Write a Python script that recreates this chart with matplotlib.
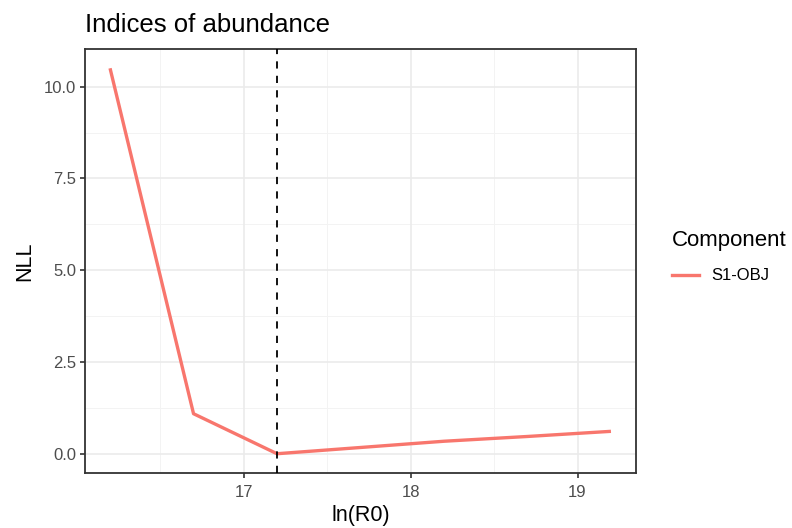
import matplotlib
matplotlib.use("Agg")
import matplotlib.pyplot as plt
from matplotlib.lines import Line2D

plt.rcParams['font.family'] = ['Liberation Sans', 'DejaVu Sans']

# Likelihood profile over ln(R0)
ln_r0 = [16.2, 16.7, 17.2, 17.7, 18.2, 18.7, 19.2]
nll = [10.5, 1.09, 0.0, 0.17, 0.34, 0.47, 0.61]
component = "S1-OBJ"
mle_r0 = 17.2

x_ticks = [17, 18, 19]
x_minor = [16.5, 17.5, 18.5]
y_ticks = [0.0, 2.5, 5.0, 7.5, 10.0]
y_minor = [1.25, 3.75, 6.25, 8.75]

line_color = "#F8766D"
grid_major = "#EBEBEB"
grid_minor = "#F3F3F3"
border = "#333333"
tick_text = "#4D4D4D"

fig = plt.figure(figsize=(7.92, 5.28), dpi=100)
ax = fig.add_axes([85 / 792, 55 / 528, 551 / 792, 424 / 528])

# ggplot-style 5% expansion around data range
xr = max(ln_r0) - min(ln_r0)
yr = max(nll) - min(nll)
ax.set_xlim(min(ln_r0) - 0.05 * xr, max(ln_r0) + 0.05 * xr)
ax.set_ylim(min(nll) - 0.05 * yr, max(nll) + 0.05 * yr)

for v in x_minor:
    ax.axvline(v, color=grid_minor, lw=0.7, zorder=0)
for v in y_minor:
    ax.axhline(v, color=grid_minor, lw=0.7, zorder=0)
for v in x_ticks:
    ax.axvline(v, color=grid_major, lw=1.2, zorder=0)
for v in y_ticks:
    ax.axhline(v, color=grid_major, lw=1.2, zorder=0)

ax.plot(ln_r0, nll, color=line_color, lw=2.4, zorder=3, solid_capstyle='butt')
ax.axvline(mle_r0, color="black", lw=1.3, ls=(0, (4, 4)), zorder=4)

ax.set_xticks(x_ticks)
ax.set_xticklabels([str(t) for t in x_ticks])
ax.set_yticks(y_ticks)
ax.set_yticklabels([f"{t:.1f}" for t in y_ticks])
ax.tick_params(axis='both', direction='out', length=3.5, width=1.2, color=border,
               labelcolor=tick_text, labelsize=12, pad=3)
ax.tick_params(axis='x', pad=5)

for s in ax.spines.values():
    s.set_color(border)
    s.set_linewidth(1.3)

ax.set_xlabel("ln(R0)", fontsize=15.5, labelpad=4)
ax.set_ylabel("NLL", fontsize=15.5, labelpad=6)
ax.set_title("Indices of abundance", fontsize=18.5, loc='left', x=0.0, pad=12)

handles = [Line2D([0], [0], color=line_color, lw=2.4)]
leg = fig.legend(handles, [component], title="Component", loc='upper left',
                 bbox_to_anchor=(672 / 792, 1 - 230 / 528), frameon=False,
                 fontsize=12, title_fontsize=16, handlelength=1.6,
                 handletextpad=0.75, labelspacing=1.05,
                 borderaxespad=0, borderpad=0)
leg._legend_box.align = "left"

fig.savefig("out.png", dpi=100)
